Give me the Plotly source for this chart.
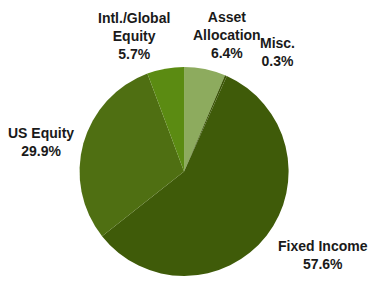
import plotly.graph_objects as go

categories = ["Asset Allocation", "Misc.", "Fixed Income", "US Equity", "Intl./Global Equity"]
label_text = ["Asset<br>Allocation", "Misc.", "Fixed Income", "US Equity", "Intl./Global<br>Equity"]
values = [6.4, 0.3, 57.6, 29.9, 5.7]

colors = ["#8dab5e", "#3b5506", "#3f5b09", "#4f6f12", "#5b8b12"]
# label positions (paper coords)
label_pos = [(0.613, 0.875), (0.75, 0.815), (0.873, 0.095), (0.11, 0.495), (0.362, 0.873)]

fig = go.Figure(go.Pie(
    labels=categories,
    values=values,
    sort=False,
    direction="clockwise",
    rotation=0,
    textinfo="none",
    hoverinfo="label+percent",
    marker=dict(colors=colors, line=dict(width=0)),
    domain=dict(x=[0.215, 0.78], y=[0.021, 0.763]),
    showlegend=False,
))

annotations = []
for txt, v, (x, y) in zip(label_text, values, label_pos):
    annotations.append(dict(
        text=f"<b>{txt}<br>{v}%</b>",
        x=x, y=y, xref="paper", yref="paper",
        xanchor="center", yanchor="middle",
        showarrow=False, align="center",
        font=dict(family="Liberation Sans Narrow, Arial Narrow, Liberation Sans, sans-serif", size=14, color="#1a1a1a"),
    ))

fig.update_layout(
    width=370, height=282,
    margin=dict(l=0, r=0, t=0, b=0),
    paper_bgcolor="white", plot_bgcolor="white",
    annotations=annotations,
)

fig.write_html(
    "out.html",
    config={"displayModeBar": False},
    post_script="document.body.style.margin='0';document.body.style.overflow='hidden';",
)
